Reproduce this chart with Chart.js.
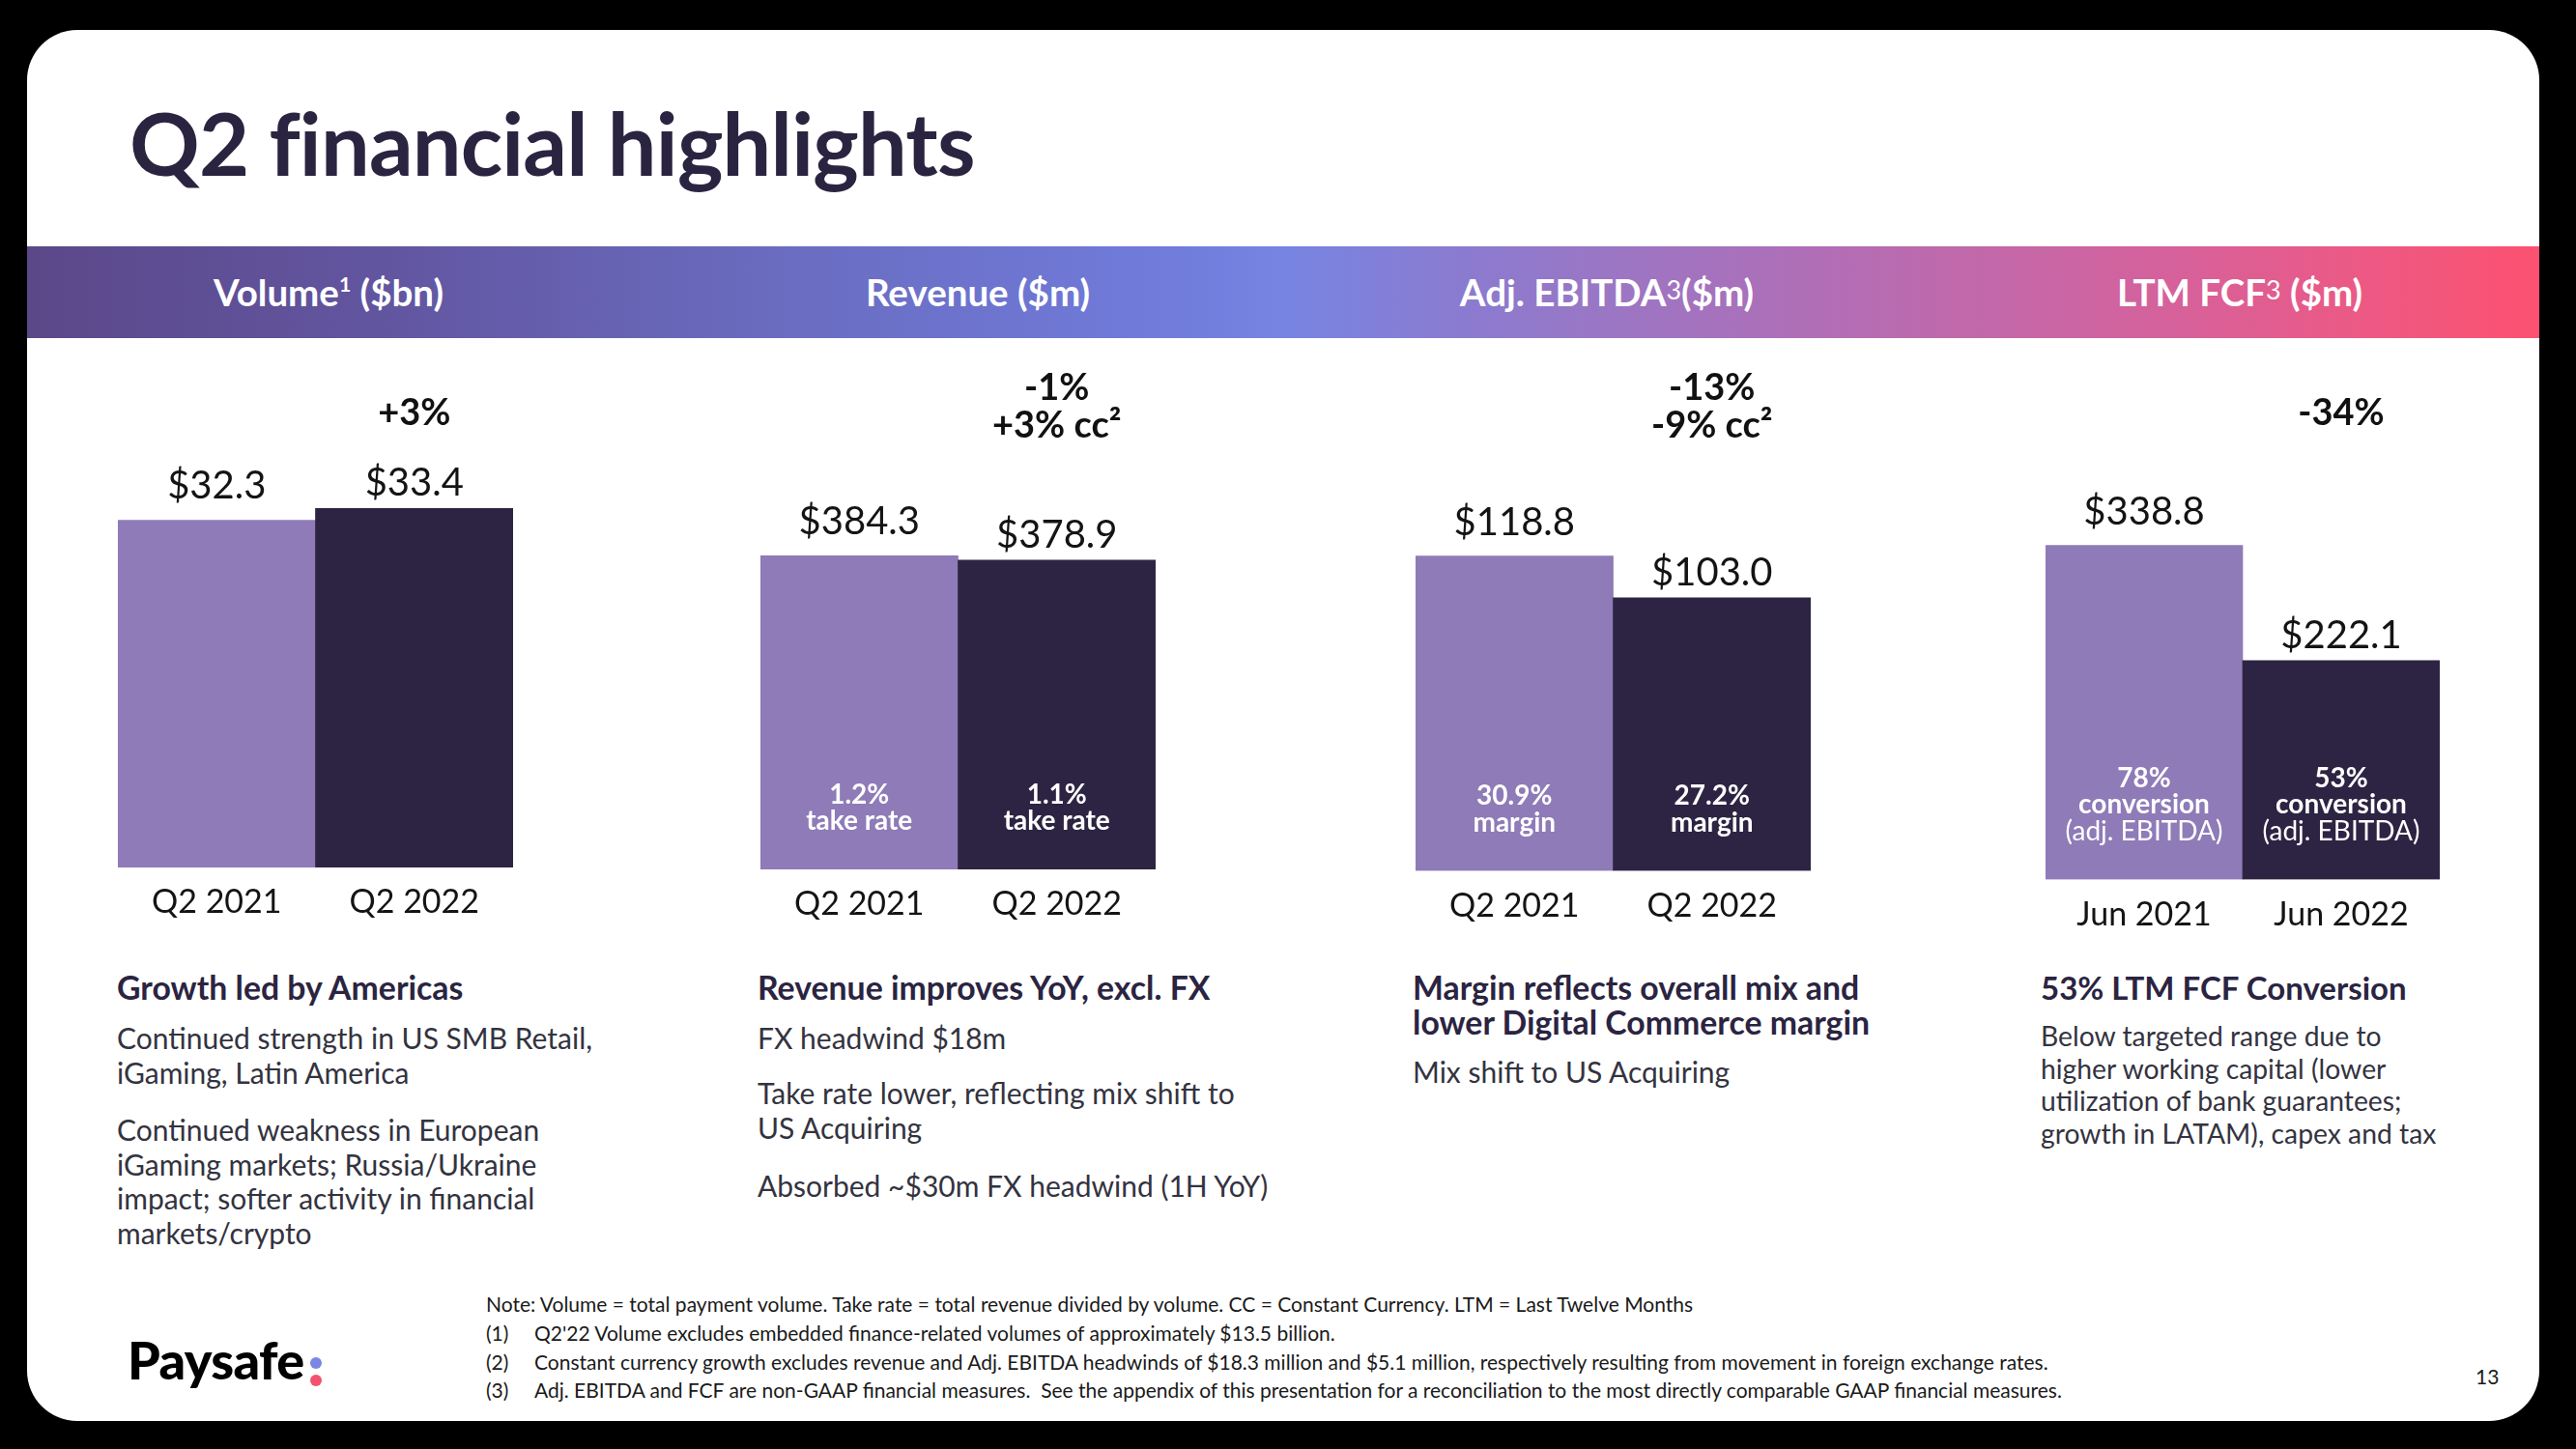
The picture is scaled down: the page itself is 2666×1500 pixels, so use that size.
<!DOCTYPE html>
<html>
<head>
<meta charset="utf-8">
<script src="https://cdn.jsdelivr.net/npm/chart.js@4.4.1/dist/chart.umd.min.js"></script>
<style>
  html, body { margin: 0; padding: 0; background: #000; }
  body { width: 2666px; height: 1500px; position: relative; overflow: hidden; font-family: Lato, "Open Sans", "DejaVu Sans", sans-serif; }
  #slide { position: absolute; left: 28px; top: 31px; width: 2600px; height: 1440px; background: #fff; border-radius: 52px; }
  #band { position: absolute; left: 28px; top: 255px; width: 2600px; height: 95px;
    background: linear-gradient(90deg, #5b4889 0%, #6255a0 14%, #6a6cc0 30%, #707bda 45%, #7784e2 50%, #8a7bd0 57%, #9877c6 62%, #ad6fb8 70%, #d6619b 85.5%, #ec5984 93%, #fc5170 100%); }
  .hdr { position: absolute; top: 255px; height: 95px; line-height: 95px; width: 600px; text-align: center; color: #fff; font-weight: 700; font-size: 38.5px; white-space: nowrap; }
  .hdr sup { font-size: 55%; line-height: 0; vertical-align: 0.7em; }
  .hdr sup.low { font-size: 70%; vertical-align: 0.25em; font-weight: 400; }
  .t { position: absolute; white-space: nowrap; }
  #title { left: 134px; top: 102px; font-size: 90px; line-height: 90px; font-weight: 700; color: #2b2441; letter-spacing: -0.8px; }
  .h { font-size: 33.8px; line-height: 36px; font-weight: 700; color: #2b2441; }
  .h4 { font-size: 33px; }
  .p { font-size: 30px; line-height: 35.5px; color: #333340; }
  .p4 { font-size: 28.3px; line-height: 33.5px; color: #333340; }
  .fn { font-size: 21px; line-height: 29.5px; color: #1a1a1a; }
  canvas { position: absolute; }
  .dot { position: absolute; width: 12px; height: 12px; border-radius: 50%; }
</style>
</head>
<body>
<div id="slide"></div>
<div id="band"></div>
<div id="title" class="t">Q2 financial highlights</div>

<div class="hdr" style="left:40px">Volume<sup>1</sup> ($bn)</div>
<div class="hdr" style="left:712px">Revenue ($m)</div>
<div class="hdr" style="left:1363px">Adj. EBITDA<sup class="low">3</sup>($m)</div>
<div class="hdr" style="left:2018px">LTM FCF<sup class="low">3</sup> ($m)</div>

<canvas id="c1"></canvas>
<canvas id="c2"></canvas>
<canvas id="c3"></canvas>
<canvas id="c4"></canvas>

<!-- commentary column 1 -->
<div class="t h" style="left:121px;top:1004px">Growth led by Americas</div>
<div class="t p" style="left:121px;top:1057px">Continued strength in US SMB Retail,<br>iGaming, Latin America</div>
<div class="t p" style="left:121px;top:1152px">Continued weakness in European<br>iGaming markets; Russia/Ukraine<br>impact; softer activity in financial<br>markets/crypto</div>
<!-- column 2 -->
<div class="t h" style="left:784px;top:1004px">Revenue improves YoY, excl. FX</div>
<div class="t p" style="left:784px;top:1057px">FX headwind $18m</div>
<div class="t p" style="left:784px;top:1114px">Take rate lower, reflecting mix shift to<br>US Acquiring</div>
<div class="t p" style="left:784px;top:1210px">Absorbed ~$30m FX headwind (1H YoY)</div>
<!-- column 3 -->
<div class="t h" style="left:1462px;top:1004px">Margin reflects overall mix and<br>lower Digital Commerce margin</div>
<div class="t p" style="left:1462px;top:1092px">Mix shift to US Acquiring</div>
<!-- column 4 -->
<div class="t h h4" style="left:2112px;top:1004px">53% LTM FCF Conversion</div>
<div class="t p4" style="left:2112px;top:1056px">Below targeted range due to<br>higher working capital (lower<br>utilization of bank guarantees;<br>growth in LATAM), capex and tax</div>

<!-- footnotes -->
<div class="t fn" style="left:503px;top:1335px">Note: Volume = total payment volume. Take rate = total revenue divided by volume. CC = Constant Currency. LTM = Last Twelve Months</div>
<div class="t fn" style="left:503px;top:1365px">(1)</div>
<div class="t fn" style="left:553px;top:1365px">Q2'22 Volume excludes embedded finance-related volumes of approximately $13.5 billion.</div>
<div class="t fn" style="left:503px;top:1395px">(2)</div>
<div class="t fn" style="left:553px;top:1395px">Constant currency growth excludes revenue and Adj. EBITDA headwinds of $18.3 million and $5.1 million, respectively resulting from movement in foreign exchange rates.</div>
<div class="t fn" style="left:503px;top:1424px">(3)</div>
<div class="t fn" style="left:553px;top:1424px">Adj. EBITDA and FCF are non-GAAP financial measures.&nbsp; See the appendix of this presentation for a reconciliation to the most directly comparable GAAP financial measures.</div>

<!-- logo & page number -->
<div class="t" style="left:132px;top:1380px;font-size:54px;line-height:55px;font-weight:900;color:#000;letter-spacing:-0.6px">Paysafe</div>
<div class="dot" style="left:321px;top:1405px;background:#7b87e2"></div>
<div class="dot" style="left:321px;top:1423px;background:#f4516f"></div>
<div class="t" style="left:2562px;top:1412px;font-size:21px;line-height:26px;color:#1a1a1a">13</div>

<script>
// ---------------- data ----------------
const volumeCategories = ['Q2 2021', 'Q2 2022'];
const volumeValues = [32.3, 33.4];
const volumeNotes = [[], []];
const volumeGrowth = ['+3%'];

const revenueCategories = ['Q2 2021', 'Q2 2022'];
const revenueValues = [384.3, 378.9];
const revenueNotes = [['1.2%', 'take rate'], ['1.1%', 'take rate']];
const revenueGrowth = ['-1%', '+3% cc\u00B2'];

const ebitdaCategories = ['Q2 2021', 'Q2 2022'];
const ebitdaValues = [118.8, 103.0];
const ebitdaNotes = [['30.9%', 'margin'], ['27.2%', 'margin']];
const ebitdaGrowth = ['-13%', '-9% cc\u00B2'];

const fcfCategories = ['Jun 2021', 'Jun 2022'];
const fcfValues = [338.8, 222.1];
const fcfNotes = [['78%', 'conversion', '(adj. EBITDA)'], ['53%', 'conversion', '(adj. EBITDA)']];
const fcfGrowth = ['-34%'];

// ---------------- styles / layout ----------------
const LIGHT = '#8e7bb7';
const DARK = '#2d2443';
const FONT = 'Lato, "Open Sans", sans-serif';
const CANVAS_TOP = 360;
const CANVAS_BOTTOM = 1000;

const panels = [
  { id: 'c1', cats: volumeCategories, vals: volumeValues, notes: volumeNotes, growth: volumeGrowth, left: 122, width: 409, plotTop: 386, base: 898, max: 46 },
  { id: 'c2', cats: revenueCategories, vals: revenueValues, notes: revenueNotes, growth: revenueGrowth, left: 787, width: 409, plotTop: 393, base: 900, max: 600 },
  { id: 'c3', cats: ebitdaCategories, vals: ebitdaValues, notes: ebitdaNotes, growth: ebitdaGrowth, left: 1465, width: 409, plotTop: 394, base: 901.5, max: 185 },
  { id: 'c4', cats: fcfCategories, vals: fcfValues, notes: fcfNotes, growth: fcfGrowth, left: 2117, width: 408, plotTop: 400, base: 910.5, max: 500 }
];

const labelPlugin = {
  id: 'slideLabels',
  afterDatasetsDraw(chart, args, opts) {
    const ctx = chart.ctx;
    const meta = chart.getDatasetMeta(0);
    const xs = chart.scales.x;
    const vals = chart.data.datasets[0].data;
    ctx.save();
    ctx.textAlign = 'center';
    ctx.textBaseline = 'alphabetic';
    meta.data.forEach((bar, i) => {
      const p = bar.getProps(['x', 'y', 'base'], true);
      // value label above bar
      ctx.fillStyle = '#141414';
      ctx.font = '400 40px ' + FONT;
      ctx.fillText('$' + vals[i].toFixed(1), p.x, p.y - (i === 0 ? 22 : 13));
      // category label below baseline
      ctx.font = '400 34px ' + FONT;
      ctx.fillStyle = '#141414';
      ctx.fillText(chart.data.labels[i], xs.getPixelForValue(i), p.base + 47);
      // notes inside bar
      const lines = opts.notes[i] || [];
      ctx.fillStyle = '#ffffff';
      lines.forEach((ln, j) => {
        ctx.font = (j < 2 ? '700 28px ' : '400 28px ') + FONT;
        const y = p.base - 41 - (lines.length - 1 - j) * 27.5;
        ctx.fillText(ln, p.x, y);
      });
    });
    // growth annotation centred over the second bar
    const last = meta.data[meta.data.length - 1];
    const g = opts.growth;
    ctx.fillStyle = '#111111';
    ctx.font = '700 38px ' + FONT;
    const ys = g.length === 1 ? [440] : [414, 453];
    g.forEach((t, j) => ctx.fillText(t, last.x, ys[j] - CANVAS_TOP));
    ctx.restore();
  }
};

panels.forEach(pn => {
  const cv = document.getElementById(pn.id);
  cv.width = pn.width;
  cv.height = CANVAS_BOTTOM - CANVAS_TOP;
  cv.style.left = pn.left + 'px';
  cv.style.top = CANVAS_TOP + 'px';
  cv.style.width = pn.width + 'px';
  cv.style.height = (CANVAS_BOTTOM - CANVAS_TOP) + 'px';
  new Chart(cv, {
    type: 'bar',
    data: {
      labels: pn.cats,
      datasets: [{
        data: pn.vals,
        backgroundColor: [LIGHT, DARK],
        borderWidth: 0,
        categoryPercentage: 1.0,
        barPercentage: 1.0
      }]
    },
    options: {
      responsive: false,
      maintainAspectRatio: false,
      animation: false,
      devicePixelRatio: 1,
      layout: { padding: { top: pn.plotTop - CANVAS_TOP, bottom: CANVAS_BOTTOM - pn.base, left: 0, right: 0 } },
      scales: {
        x: { display: false, grid: { display: false } },
        y: { display: false, min: 0, max: pn.max, grid: { display: false } }
      },
      plugins: {
        legend: { display: false },
        tooltip: { enabled: false },
        slideLabels: { notes: pn.notes, growth: pn.growth }
      }
    },
    plugins: [labelPlugin]
  });
});
</script>
</body>
</html>
